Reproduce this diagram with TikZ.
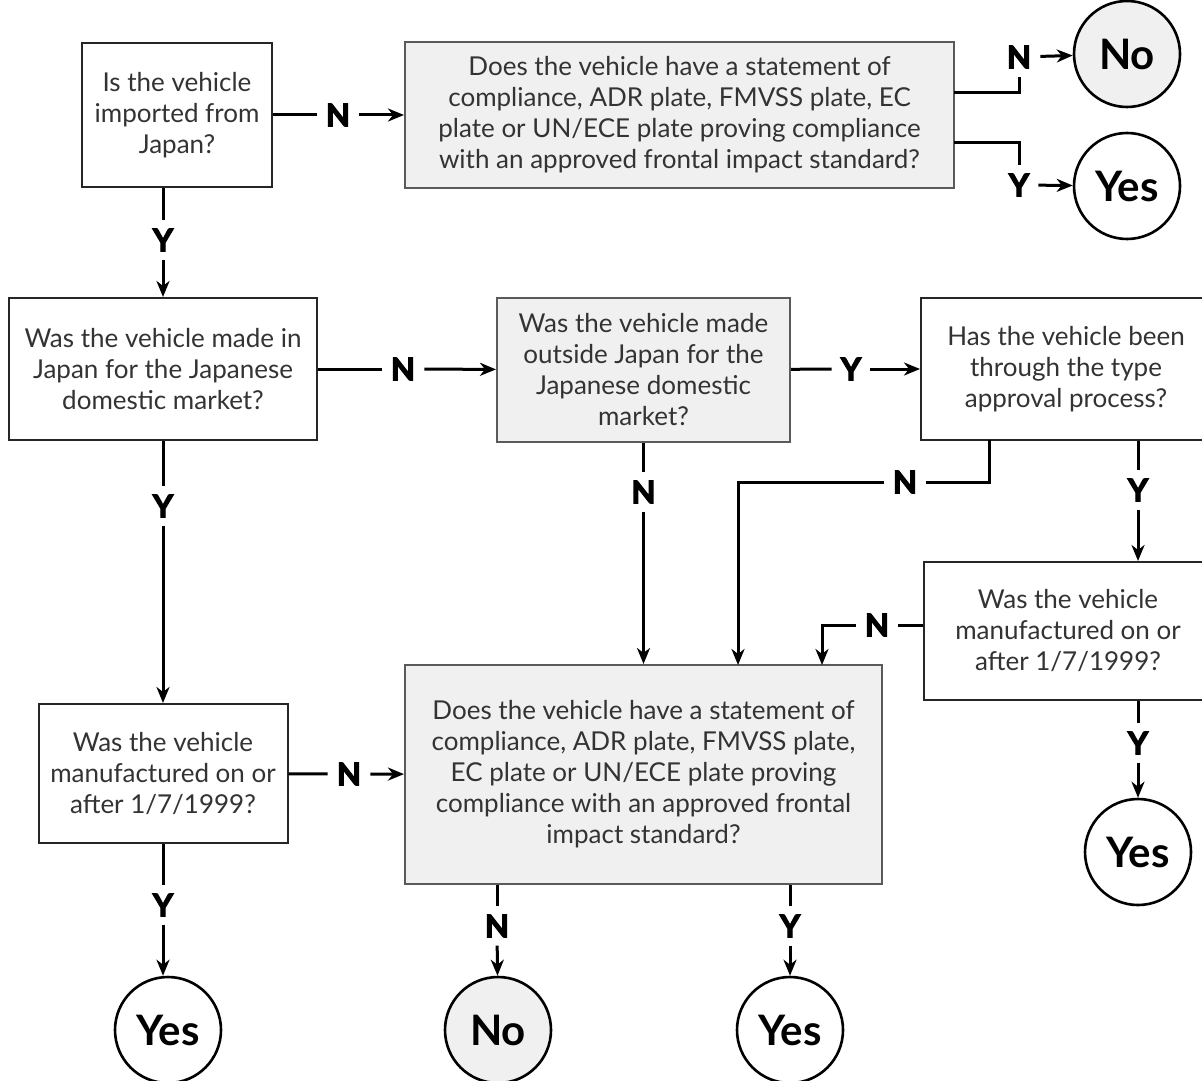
\documentclass[tikz,border=0pt]{standalone}
\usepackage{fontspec}
\setmainfont{Lato}
\newfontfamily\choicefont[FakeBold=4,BoldFeatures={FakeBold=4}]{Lato}
\usetikzlibrary{arrows.meta}
\definecolor{boxgray}{HTML}{F0F0F0}
\definecolor{linegray}{HTML}{5A5A5A}
\definecolor{textgray}{HTML}{333333}
\begin{document}
\begin{tikzpicture}[x=0.5pt,y=-0.5pt]
        \tikzstyle{question}=[rectangle,draw=black!85,line width=1pt,fill=white,text=textgray,align=center,inner sep=0pt,font=\fontsize{13}{15.5}\selectfont]
        \tikzstyle{shaded}=[question,draw=linegray,fill=boxgray]
        \tikzstyle{answer}=[circle,draw=black,line width=1.3pt,fill=white,minimum size=53pt,inner sep=0pt,font=\fontsize{21}{21}\selectfont\bfseries]
        \tikzstyle{choice}=[inner xsep=4.5pt,inner ysep=4pt,font=\fontsize{15.5}{15.5}\choicefont\bfseries]
        \tikzstyle{edge}=[draw,line width=1.5pt]
        \tikzstyle{link}=[edge,-{Stealth[length=8pt,width=6.5pt,inset=2.5pt]}]
       \useasboundingbox (0,0) rectangle (1202,1080);
       \begin{scope}
         % questions
         \node [question,minimum width=95pt,minimum height=72pt] (q1) at (177,115) {Is the vehicle\\imported from\\Japan?};
         \node [shaded,minimum width=274.5pt,minimum height=73pt] (q2) at (679.5,115) {Does the vehicle have a statement of\\compliance, ADR plate, FMVSS plate, EC\\plate or UN/ECE plate proving compliance\\with an approved frontal impact standard?};
         \node [question,minimum width=154pt,minimum height=71pt] (q3) at (163,369) {Was the vehicle made in\\Japan for the Japanese\\domestic market?};
         \node [shaded,minimum width=146.5pt,minimum height=72pt] (q4) at (643.5,370) {Was the vehicle made\\outside Japan for the\\Japanese domestic\\market?};
         \node [question,minimum width=145pt,minimum height=71pt] (q5) at (1066,369) {Has the vehicle been\\through the type\\approval process?};
         \node [question,minimum width=144pt,minimum height=69pt] (q6) at (1068,631) {Was the vehicle\\manufactured on or\\after 1/7/1999?};
         \node [shaded,minimum width=238.5pt,minimum height=109.5pt] (q7) at (643.5,774.5) {Does the vehicle have a statement of\\compliance, ADR plate, FMVSS plate,\\EC plate or UN/ECE plate proving\\compliance with an approved frontal\\impact standard?};
         \node [question,minimum width=124.5pt,minimum height=69.5pt] (q8) at (163,773.5) {Was the vehicle\\manufactured on or\\after 1/7/1999?};

         % answers
         \node [answer,fill=boxgray] (no1) at (1127,54) {No};
         \node [answer] (yes1) at (1127,186) {Yes};
         \node [answer] (yes2) at (1138,852) {Yes};
         \node [answer] (yes3) at (168,1030) {Yes};
         \node [answer,fill=boxgray] (no2) at (498,1030) {No};
         \node [answer] (yes4) at (790,1030) {Yes};

         % choices
         \node [choice] (c12) at (338,115) {N};
         \node [choice] (c13) at (163,240) {Y};
         \node [choice] (c2n) at (1019,57) {N};
         \node [choice] (c2y) at (1019,185) {Y};
         \node [choice] (c34) at (403,369) {N};
         \node [choice] (c38) at (163,506) {Y};
         \node [choice] (c45) at (851,369) {Y};
         \node [choice] (c47) at (643.5,492) {N};
         \node [choice] (c57) at (905,482) {N};
         \node [choice] (c56) at (1138,490) {Y};
         \node [choice] (c67) at (877,625) {N};
         \node [choice] (c6y) at (1138,743) {Y};
         \node [choice] (c87) at (349,774) {N};
         \node [choice] (c8y) at (163,905) {Y};
         \node [choice] (c7n) at (497,926) {N};
         \node [choice] (c7y) at (790,926) {Y};

         \coordinate (q2n) at (954,93);
         \coordinate (q2y) at (954,143);
         \coordinate (q5n) at (989,440);
         \coordinate (q7b) at (738,665);
         \coordinate (q7c) at (822,665);

         \path[edge] (q1) -- (c12);
         \path[link] (c12) -- (q2);
         \path[edge] (q1.south -| c13) -- (c13);
         \path[link] (c13) -- (q3);

         \path[edge] (q2n) -| (c2n);
         \path[link] (c2n) -- (no1);
         \path[edge] (q2y) -| (c2y);
         \path[link] (c2y) -- (yes1);

         \path[edge] (q3) -- (c34);
         \path[link] (c34) -- (q4);
         \path[edge] (q3) -- (c38);
         \path[link] (c38) -- (q8);

         \path[edge] (q4) -- (c45);
         \path[link] (c45) -- (q5);
         \path[edge] (q4) -- (c47);
         \path[link] (c47) -- (q7);

         \path[edge] (q5n) |- (c57);
         \path[link] (c57) -| (q7b);
         \path[edge] (q5.south -| c56) -- (c56);
         \path[link] (c56) -- (q6.north -| c56);

         \path[edge] (q6.west |- c67) -- (c67);
         \path[link] (c67) -| (q7c);
         \path[edge] (q6.south -| c6y) -- (c6y);
         \path[link] (c6y) -- (yes2);

         \path[edge] (q8) -- (c87);
         \path[link] (c87) -- (q7);
         \path[edge] (q8) -- (c8y);
         \path[link] (c8y) -- (c8y |- yes3.north);

         \path[edge] (q7.south -| c7n) -- (c7n);
         \path[link] (c7n) -- (no2);
         \path[edge] (q7.south -| c7y) -- (c7y);
         \path[link] (c7y) -- (yes4);
        \end{scope}
      \end{tikzpicture}
\end{document}
